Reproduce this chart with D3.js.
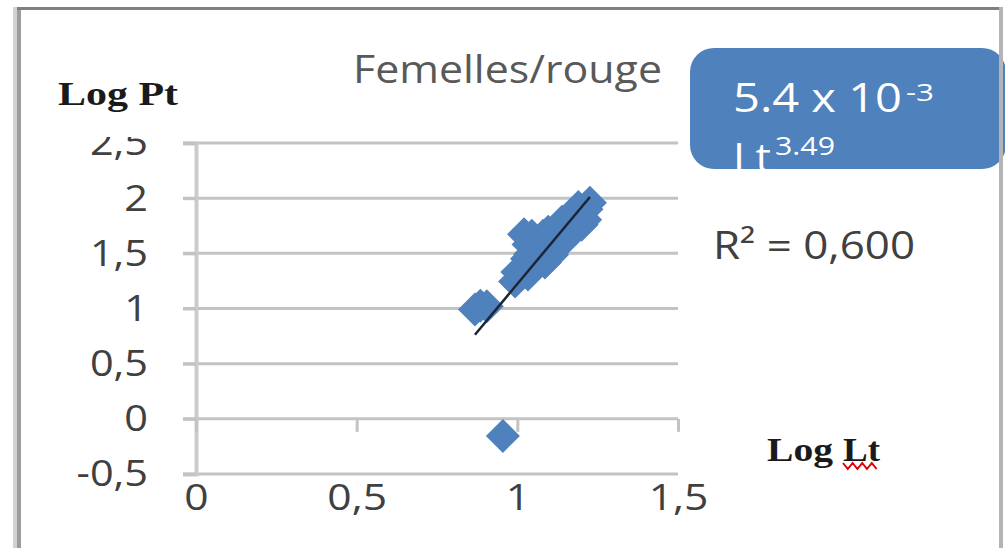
<!DOCTYPE html>
<html>
<head>
<meta charset="utf-8">
<script src="https://cdn.jsdelivr.net/npm/d3@7"></script>
<style>
  body { margin: 0; background: #fff; }
  svg { display: block; }
</style>
</head>
<body>
<svg id="chart" width="1005" height="548"></svg>
<script>
// Log-length vs log-weight for the females (red)
const logLt = [0.868, 0.905, 0.955, 0.993, 1.033, 1.021, 1.040, 1.071, 1.086, 1.096, 1.108, 1.139, 1.148, 1.180, 1.211, 1.226,
               1.000, 1.030, 1.035, 1.055, 1.062, 1.080, 1.100, 1.120, 1.128, 1.160, 1.168, 1.190, 1.200, 1.215, 1.015, 1.045, 0.885];
const logPt = [0.991, 1.020, -0.155, 1.245, 1.309, 1.673, 1.491, 1.582, 1.418, 1.695, 1.487, 1.786, 1.623, 1.877, 1.804, 1.958,
               1.330, 1.450, 1.580, 1.400, 1.540, 1.660, 1.580, 1.680, 1.600, 1.720, 1.820, 1.920, 1.760, 1.900, 1.330, 1.660, 1.025];

const xTicks = [0, 0.5, 1, 1.5];
const xTickLabels = ["0", "0,5", "1", "1,5"];
const yTicks = [-0.5, 0, 0.5, 1, 1.5, 2, 2.5];
const yTickLabels = ["-0,5", "0", "0,5", "1", "1,5", "2", "2,5"];

// Power fit Pt = a * Lt^b, drawn as log10(a) + b * log10(Lt)
const fitA = 5.4e-3;
const fitB = 3.49;
const r2Text = "R\u00B2 = 0,600";

const BLUE = "#4f81bd";
const SANS = "'Open Sans', 'Liberation Sans', sans-serif";
const SERIF = "'Liberation Serif', 'DejaVu Serif', serif";

const svg = d3.select("#chart");

const x = d3.scaleLinear().domain([0, 1.5]).range([196, 678]);
const y = d3.scaleLinear().domain([-0.5, 2.5]).range([474, 143]);

// widen a text element horizontally to the given factor of its natural width
function widen(sel, k) {
  sel.each(function () {
    const w = this.getComputedTextLength();
    d3.select(this).attr("textLength", w * k).attr("lengthAdjust", "spacingAndGlyphs");
  });
}

// horizontal gridlines
svg.append("g")
  .selectAll("line")
  .data(yTicks)
  .join("line")
  .attr("x1", x(0) - 13)
  .attr("x2", x(1.5))
  .attr("y1", d => y(d))
  .attr("y2", d => y(d))
  .attr("stroke", "#c3c3c3")
  .attr("stroke-width", 3);

// the top of the value axis labels is cut off
svg.append("clipPath").attr("id", "yAxisClip")
  .append("rect").attr("x", 0).attr("y", 137).attr("width", 215).attr("height", 400);

// y axis
const yAxis = svg.append("g")
  .attr("clip-path", "url(#yAxisClip)")
  .append("g")
  .attr("transform", `translate(${x(0)},0)`)
  .call(d3.axisLeft(y)
    .tickValues(yTicks)
    .tickFormat((d, i) => yTickLabels[i])
    .tickSize(13)
    .tickPadding(35));
yAxis.select(".domain").attr("stroke", "#cbcbcb").attr("stroke-width", 4);
yAxis.selectAll(".tick line").attr("stroke", "#c3c3c3").attr("stroke-width", 3);
yAxis.selectAll(".tick text")
  .attr("font-family", SANS)
  .attr("font-size", 37)
  .attr("fill", "#404040");
widen(yAxis.selectAll(".tick text"), 1.12);

// x axis ticks hang from the zero line
const xAxis = svg.append("g")
  .attr("transform", `translate(0,${y(0)})`)
  .call(d3.axisBottom(x)
    .tickValues(xTicks)
    .tickFormat((d, i) => xTickLabels[i])
    .tickSize(13));
xAxis.select(".domain").remove();
xAxis.selectAll(".tick line").attr("stroke", "#c3c3c3").attr("stroke-width", 3);
xAxis.selectAll(".tick text")
  .attr("y", y(-0.5) - y(0) + 10)
  .attr("dy", "0.71em")
  .attr("font-family", SANS)
  .attr("font-size", 37)
  .attr("fill", "#404040");
widen(xAxis.selectAll(".tick text"), 1.15);

// data markers (diamonds)
const pts = logLt.map((v, i) => [v, logPt[i]]);
const h = 17;
svg.append("g")
  .selectAll("path")
  .data(pts)
  .join("path")
  .attr("d", d => {
    const cx = x(d[0]), cy = y(d[1]);
    return `M${cx},${cy - h}L${cx + h},${cy}L${cx},${cy + h}L${cx - h},${cy}Z`;
  })
  .attr("fill", BLUE);

// trend line over the fitted range
const x0 = d3.min(logLt), x1 = d3.max(logLt);
const fit = v => Math.log10(fitA) + fitB * v;
svg.append("line")
  .attr("x1", x(x0)).attr("y1", y(fit(x0)))
  .attr("x2", x(x1)).attr("y2", y(fit(x1)))
  .attr("stroke", "#1c2535")
  .attr("stroke-width", 2.5);

// title
svg.append("text")
  .attr("x", 353).attr("y", 83)
  .attr("font-family", SANS).attr("font-size", 39)
  .attr("fill", "#595959")
  .attr("textLength", 309).attr("lengthAdjust", "spacingAndGlyphs")
  .text("Femelles/rouge");

// axis titles
svg.append("text")
  .attr("x", 58).attr("y", 105)
  .attr("font-family", SERIF).attr("font-size", 33).attr("font-weight", "bold")
  .attr("fill", "#1a1a1a")
  .attr("textLength", 120).attr("lengthAdjust", "spacingAndGlyphs")
  .text("Log Pt");

svg.append("text")
  .attr("x", 767).attr("y", 461)
  .attr("font-family", SERIF).attr("font-size", 33).attr("font-weight", "bold")
  .attr("fill", "#1a1a1a")
  .attr("textLength", 66).attr("lengthAdjust", "spacingAndGlyphs")
  .text("Log");
svg.append("text")
  .attr("x", 843).attr("y", 461)
  .attr("font-family", SERIF).attr("font-size", 33).attr("font-weight", "bold")
  .attr("fill", "#1a1a1a")
  .attr("textLength", 37).attr("lengthAdjust", "spacingAndGlyphs")
  .text("Lt");
// spell-check squiggle under "Lt"
const sq = d3.range(0, 8).map(i => [843 + i * 4.8, i % 2 ? 469 : 463]);
svg.append("path")
  .attr("d", d3.line()(sq))
  .attr("fill", "none").attr("stroke", "#e00000").attr("stroke-width", 2);

// equation box
const box = { x: 690, y: 48, w: 316, h: 121 };
svg.append("clipPath").attr("id", "boxClip")
  .append("rect").attr("x", box.x).attr("y", box.y).attr("width", box.w).attr("height", box.h).attr("rx", 24);
svg.append("rect")
  .attr("x", box.x).attr("y", box.y).attr("width", box.w).attr("height", box.h)
  .attr("rx", 24).attr("fill", BLUE);
const eq = svg.append("g").attr("clip-path", "url(#boxClip)").attr("fill", "#fff").attr("font-family", SANS);
eq.append("text").attr("x", 733).attr("y", 112).attr("font-size", 40)
  .attr("textLength", 169).attr("lengthAdjust", "spacingAndGlyphs")
  .text("5.4 x 10");
eq.append("text").attr("x", 906).attr("y", 101).attr("font-size", 23)
  .attr("textLength", 28).attr("lengthAdjust", "spacingAndGlyphs")
  .text("-3");
eq.append("text").attr("x", 733).attr("y", 172).attr("font-size", 40)
  .attr("textLength", 38).attr("lengthAdjust", "spacingAndGlyphs")
  .text("Lt");
eq.append("text").attr("x", 775).attr("y", 155).attr("font-size", 25)
  .attr("textLength", 60).attr("lengthAdjust", "spacingAndGlyphs")
  .text("3.49");

// R² label
svg.append("text")
  .attr("x", 713).attr("y", 259)
  .attr("font-family", SANS).attr("font-size", 38)
  .attr("fill", "#404040")
  .attr("textLength", 202).attr("lengthAdjust", "spacingAndGlyphs")
  .text(r2Text);

// chart frame
svg.append("line").attr("x1", 15).attr("x2", 15).attr("y1", 7).attr("y2", 548)
  .attr("stroke", "#d2d2d2").attr("stroke-width", 4);
svg.append("line").attr("x1", 19).attr("x2", 19).attr("y1", 7).attr("y2", 548)
  .attr("stroke", "#9c9c9c").attr("stroke-width", 4);
svg.append("line").attr("x1", 17).attr("x2", 1003).attr("y1", 8.5).attr("y2", 8.5)
  .attr("stroke", "#808080").attr("stroke-width", 3);
svg.append("line").attr("x1", 1001).attr("x2", 1001).attr("y1", 7).attr("y2", 548)
  .attr("stroke", "#b4b4b4").attr("stroke-width", 4);
</script>
</body>
</html>
